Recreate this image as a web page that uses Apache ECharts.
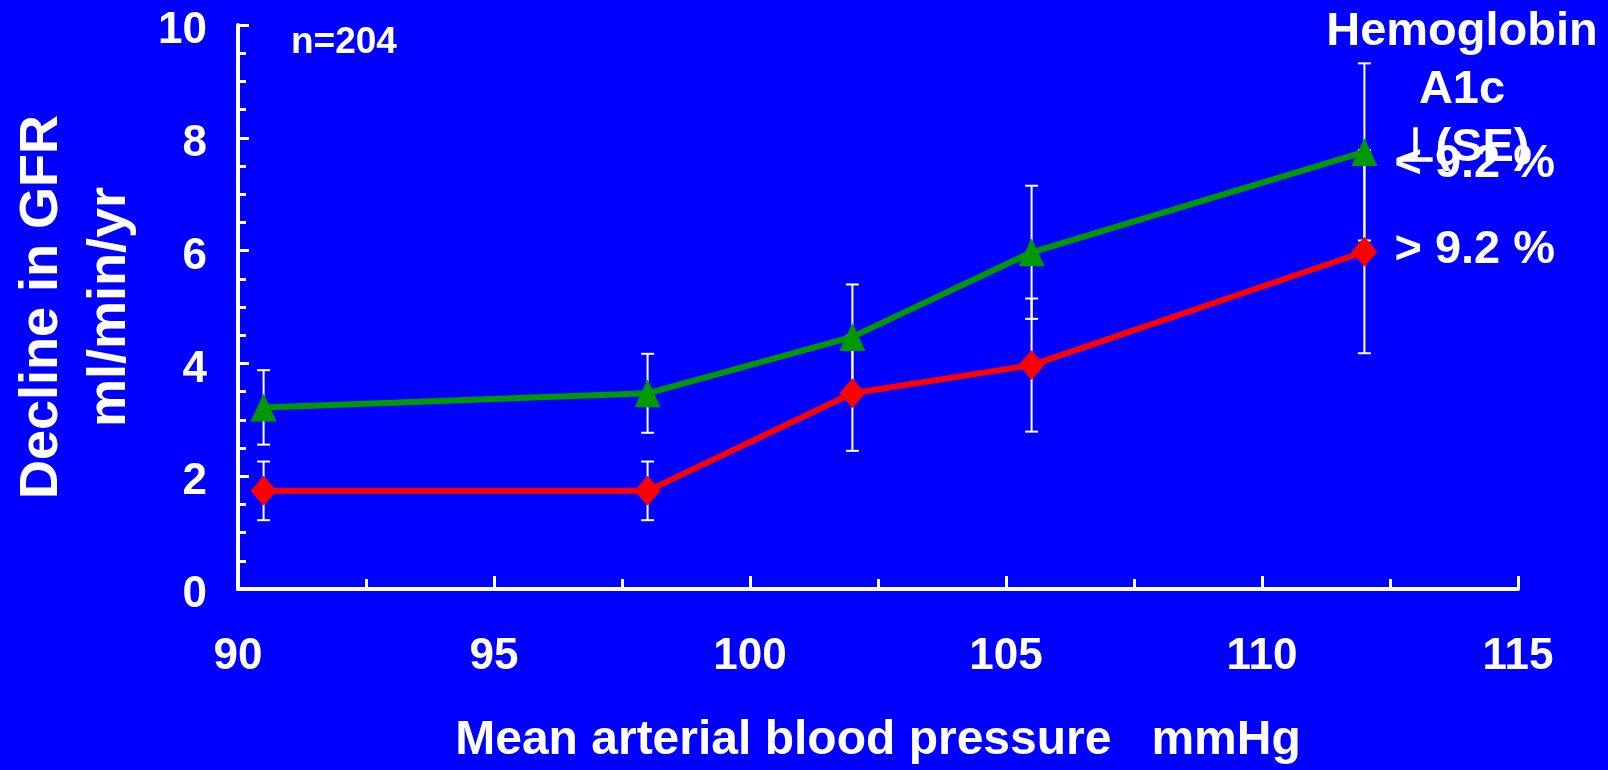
<!DOCTYPE html>
<html>
<head>
<meta charset="utf-8">
<title>Decline in GFR by mean arterial blood pressure</title>
<script src="https://cdn.jsdelivr.net/npm/echarts@6/dist/echarts.min.js"></script>
<style>
  html, body { margin: 0; padding: 0; background: #0000ff; }
  #chart { width: 1608px; height: 770px; }
</style>
</head>
<body>
<div id="chart"></div>
<script>
// Mean arterial blood pressure groups (mmHg)
const pressure = [90.5, 98, 102, 105.5, 112];

// Hemoglobin A1c < 9.2 %: mean decline in GFR and its standard error
const declineLow = [3.22, 3.47, 4.47, 5.97, 7.75];
const seLow = [0.66, 0.70, 0.93, 1.18, 1.57];

// Hemoglobin A1c > 9.2 %
const declineHigh = [1.74, 1.74, 3.47, 3.97, 5.98];
const seHigh = [0.52, 0.52, 1.02, 1.18, 1.80];

const labelLow = '< 9.2 %';
const labelHigh = '> 9.2 %';

const FONT = '"Liberation Sans", Arial, Helvetica, sans-serif';
const WHITE = '#ffffff';
const GREEN = '#009900';
const RED = '#ff0000';

const pairs = (xs, ys) => xs.map((x, i) => [x, ys[i]]);
const ranges = (xs, ys, es) => xs.map((x, i) => [x, ys[i] - es[i], ys[i] + es[i]]);

// White I-shaped bars: mean ± SE
function errorBar(params, api) {
  const x = api.value(0);
  const lo = api.coord([x, api.value(1)]);
  const hi = api.coord([x, api.value(2)]);
  const cap = 6.5;
  const style = { stroke: WHITE, lineWidth: 2 };
  return {
    type: 'group',
    children: [
      { type: 'line', shape: { x1: hi[0], y1: hi[1], x2: lo[0], y2: lo[1] }, style },
      { type: 'line', shape: { x1: hi[0] - cap, y1: hi[1], x2: hi[0] + cap, y2: hi[1] }, style },
      { type: 'line', shape: { x1: lo[0] - cap, y1: lo[1], x2: lo[0] + cap, y2: lo[1] }, style }
    ]
  };
}

const lastIndex = pressure.length - 1;
const endLabel = (text, dy) => ({
  show: true,
  position: 'right',
  distance: 17,
  offset: [0, dy],
  color: WHITE,
  fontFamily: FONT,
  fontWeight: 'bold',
  fontSize: 47,
  formatter: p => (p.dataIndex === lastIndex ? text : '')
});

const chart = echarts.init(document.getElementById('chart'), null, { renderer: 'canvas' });

chart.setOption({
  backgroundColor: '#0000ff',
  animation: false,
  grid: { left: 235, right: 90, top: 25, bottom: 181, containLabel: false },
  xAxis: {
    type: 'value',
    min: 90,
    max: 115,
    interval: 5,
    name: 'Mean arterial blood pressure   mmHg',
    nameLocation: 'middle',
    nameGap: 128,
    nameTextStyle: { color: WHITE, fontFamily: FONT, fontWeight: 'bold', fontSize: 48 },
    axisLine: { show: true, lineStyle: { color: WHITE, width: 4 } },
    axisTick: { show: true, inside: true, length: 13, lineStyle: { color: WHITE, width: 3 } },
    minorTick: { show: true, splitNumber: 2, length: 10, lineStyle: { color: WHITE, width: 3 } },
    axisLabel: { color: WHITE, fontFamily: FONT, fontWeight: 'bold', fontSize: 44, margin: 46 },
    splitLine: { show: false }
  },
  yAxis: {
    type: 'value',
    min: 0,
    max: 10,
    interval: 2,
    name: 'Decline in GFR\nml/min/yr',
    nameLocation: 'middle',
    nameRotate: 90,
    nameGap: 94,
    nameTextStyle: {
      color: WHITE, fontFamily: FONT, fontWeight: 'bold', fontSize: 54,
      lineHeight: 68, align: 'center'
    },
    axisLine: { show: true, lineStyle: { color: WHITE, width: 4 } },
    axisTick: { show: true, inside: true, length: 11, lineStyle: { color: WHITE, width: 3 } },
    minorTick: { show: true, splitNumber: 4, length: 8, lineStyle: { color: WHITE, width: 3 } },
    axisLabel: {
      color: WHITE, fontFamily: FONT, fontWeight: 'bold', fontSize: 44, margin: 31,
      verticalAlign: 'top', lineHeight: 12
    },
    splitLine: { show: false }
  },
  series: [
    {
      name: 'SE ' + labelLow,
      type: 'custom',
      renderItem: errorBar,
      encode: { x: 0, y: [1, 2] },
      data: ranges(pressure, declineLow, seLow),
      z: 1,
      silent: true
    },
    {
      name: 'SE ' + labelHigh,
      type: 'custom',
      renderItem: errorBar,
      encode: { x: 0, y: [1, 2] },
      data: ranges(pressure, declineHigh, seHigh),
      z: 1,
      silent: true
    },
    {
      name: labelHigh,
      type: 'line',
      data: pairs(pressure, declineHigh),
      symbol: 'diamond',
      symbolSize: [26, 30],
      showAllSymbol: true,
      lineStyle: { color: RED, width: 6 },
      itemStyle: { color: RED },
      label: endLabel(labelHigh, -2),
      z: 3
    },
    {
      name: labelLow,
      type: 'line',
      data: pairs(pressure, declineLow),
      symbol: 'triangle',
      symbolSize: [26, 28],
      showAllSymbol: true,
      lineStyle: { color: GREEN, width: 6 },
      itemStyle: { color: GREEN },
      label: endLabel(labelLow, 12),
      z: 4
    }
  ],
  graphic: [
    {
      type: 'text',
      left: 291,
      top: 24,
      style: { text: 'n=204', fill: WHITE, font: 'bold 37px ' + FONT }
    },
    {
      type: 'text',
      x: 1462,
      y: 3,
      style: {
        text: 'Hemoglobin\nA1c\n⊥(SE)',
        fill: WHITE,
        font: 'bold 47px ' + FONT,
        lineHeight: 58,
        align: 'center',
        verticalAlign: 'top'
      },
      z: 10
    }
  ]
});
</script>
</body>
</html>
